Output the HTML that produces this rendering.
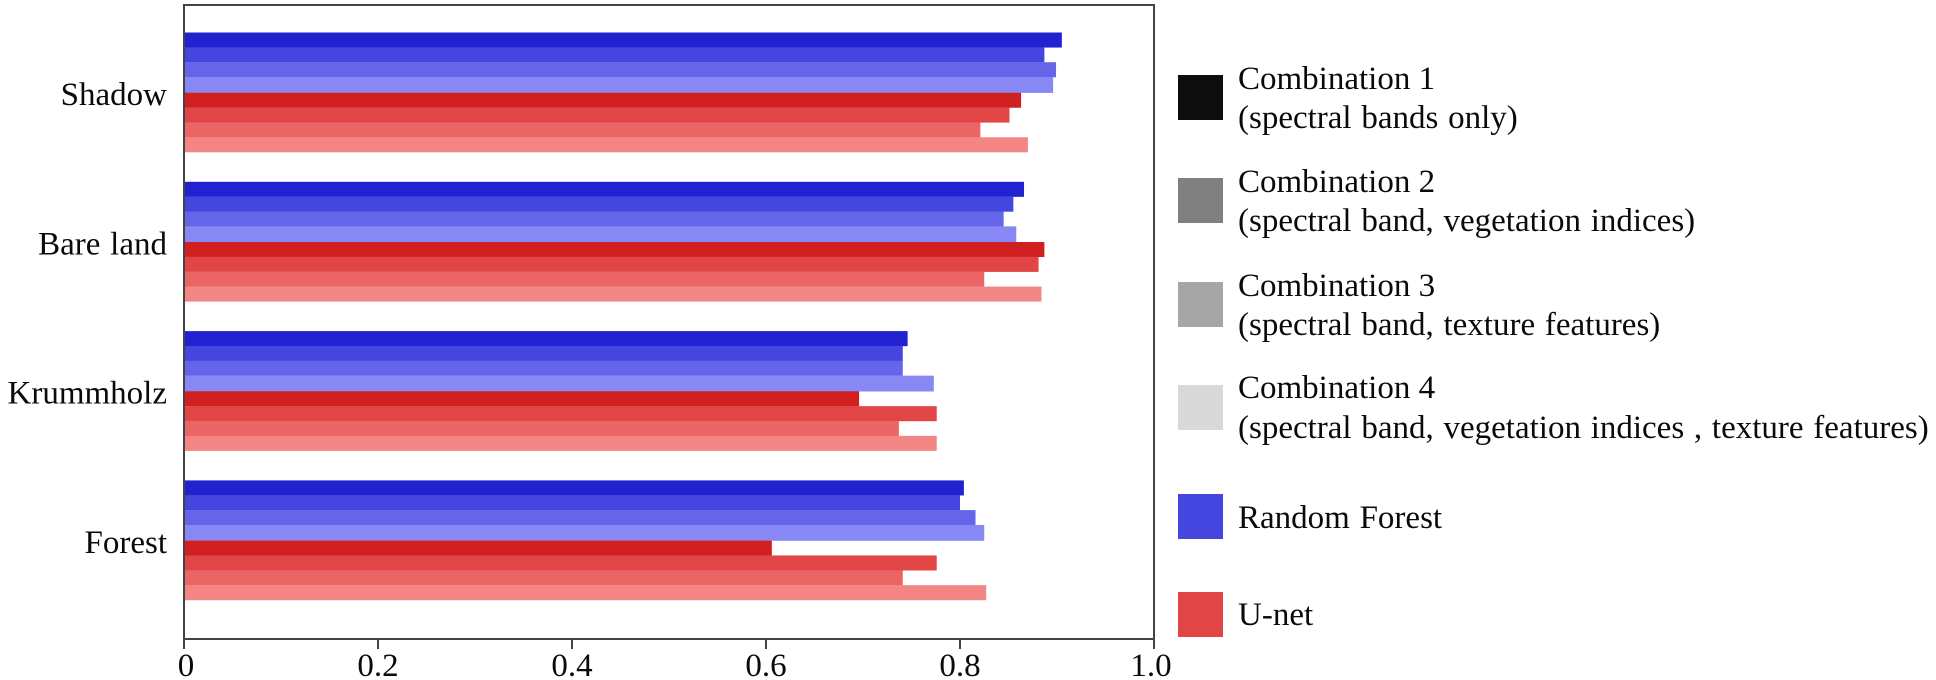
<!DOCTYPE html>
<html lang="en">
<head>
<meta charset="utf-8">
<title>Accuracy by land cover class, feature combination and model</title>
<style>
html,body{margin:0;padding:0;background:#fff;width:1936px;height:680px;overflow:hidden}
svg{display:block}
text{font-family:"Liberation Serif",serif;font-size:33px;fill:#0a0a0a}
.wide{word-spacing:1.5px}
</style>
</head>
<body>
<svg id="chart" xmlns="http://www.w3.org/2000/svg" width="1936" height="680" viewBox="0 0 1936 680">
  <rect x="0" y="0" width="1936" height="680" fill="#fff"/>
  <g id="bars"></g>
  <rect x="184" y="5" width="970" height="634" fill="none" stroke="#444" stroke-width="2"/>
  <g id="x-axis"></g>
  <g id="y-axis"></g>
  <g>
    <g>
      <rect x="1178" y="75" width="45" height="45" fill="#0d0d0d"/>
      <text x="1238" y="89">Combination 1</text>
      <text class="wide" x="1238" y="128">(spectral bands only)</text>
    </g>
    <g>
      <rect x="1178" y="178" width="45" height="45" fill="#808080"/>
      <text x="1238" y="192">Combination 2</text>
      <text class="wide" x="1238" y="231">(spectral band, vegetation indices)</text>
    </g>
    <g>
      <rect x="1178" y="282" width="45" height="45" fill="#a6a6a6"/>
      <text x="1238" y="296">Combination 3</text>
      <text class="wide" x="1238" y="335">(spectral band, texture features)</text>
    </g>
    <g>
      <rect x="1178" y="385" width="45" height="45" fill="#d9d9d9"/>
      <text x="1238" y="398">Combination 4</text>
      <text class="wide" x="1238" y="438">(spectral band, vegetation indices , texture features)</text>
    </g>
    <g>
      <rect x="1178" y="494" width="45" height="45" fill="#4545e0"/>
      <text class="wide" x="1238" y="528">Random Forest</text>
    </g>
    <g>
      <rect x="1178" y="592" width="45" height="45" fill="#e14545"/>
      <text x="1238" y="625">U-net</text>
    </g>
  </g>
</svg>
<script>
const categories = ['Shadow', 'Bare land', 'Krummholz', 'Forest'];
const xTickValues = [0, 0.2, 0.4, 0.6, 0.8, 1.0];
const xTickLabels = ['0', '0.2', '0.4', '0.6', '0.8', '1.0'];
const seriesNames = ['rf-combination-1', 'rf-combination-2', 'rf-combination-3', 'rf-combination-4', 'unet-combination-1', 'unet-combination-2', 'unet-combination-3', 'unet-combination-4'];
const seriesColors = ['#2222d0', '#4545e0', '#6565ea', '#8888f5', '#d12020', '#e14545', '#ec6565', '#f48585'];
const rfCombination1 = [0.905, 0.866, 0.746, 0.804];
const rfCombination2 = [0.887, 0.855, 0.741, 0.800];
const rfCombination3 = [0.899, 0.845, 0.741, 0.816];
const rfCombination4 = [0.896, 0.858, 0.773, 0.825];
const unetCombination1 = [0.863, 0.887, 0.696, 0.606];
const unetCombination2 = [0.851, 0.881, 0.776, 0.776];
const unetCombination3 = [0.821, 0.825, 0.737, 0.741];
const unetCombination4 = [0.870, 0.884, 0.776, 0.827];
const seriesValues = [rfCombination1, rfCombination2, rfCombination3, rfCombination4, unetCombination1, unetCombination2, unetCombination3, unetCombination4];

const SVG_NS = 'http://www.w3.org/2000/svg';
const PLOT_LEFT = 184, PLOT_WIDTH = 970, PLOT_BOTTOM = 639;
const FIRST_GROUP_TOP = 32.5, GROUP_STEP = 149.3, BAR_HEIGHT = 14.85;

function xScale(v) { return PLOT_LEFT + v * PLOT_WIDTH; }
function groupTop(i) { return FIRST_GROUP_TOP + i * GROUP_STEP; }
function barTop(c, s) { return groupTop(c) + s * BAR_HEIGHT + (s >= 4 ? 0.8 : 0); }
function slug(s) { return s.toLowerCase().replace(/[^a-z0-9]+/g, '-'); }

const barsLayer = document.getElementById('bars');
const xAxisLayer = document.getElementById('x-axis');
const yAxisLayer = document.getElementById('y-axis');

seriesValues.forEach(function (values, s) {
  values.forEach(function (v, c) {
    const bar = document.createElementNS(SVG_NS, 'rect');
    
    
    bar.setAttribute('x', xScale(0));
    bar.setAttribute('y', barTop(c, s));
    bar.setAttribute('width', xScale(v) - xScale(0));
    bar.setAttribute('height', BAR_HEIGHT + (s === 3 ? 1 : 0.2));
    bar.setAttribute('fill', seriesColors[s]);
    barsLayer.appendChild(bar);
  });
});

xTickValues.forEach(function (v, i) {
  const tick = document.createElementNS(SVG_NS, 'line');
  
  
  tick.setAttribute('x1', xScale(v));
  tick.setAttribute('x2', xScale(v));
  tick.setAttribute('y1', PLOT_BOTTOM);
  tick.setAttribute('y2', PLOT_BOTTOM + 10);
  tick.setAttribute('stroke', '#444');
  tick.setAttribute('stroke-width', 2);
  xAxisLayer.appendChild(tick);

  const label = document.createElementNS(SVG_NS, 'text');
  
  
  label.setAttribute('x', xScale(v) + (i === 0 ? 2 : i === xTickValues.length - 1 ? -3 : 0));
  label.setAttribute('y', 676);
  label.setAttribute('text-anchor', 'middle');
  label.textContent = xTickLabels[i];
  xAxisLayer.appendChild(label);
});

categories.forEach(function (name, c) {
  const label = document.createElementNS(SVG_NS, 'text');
  
  
  label.setAttribute('class', 'wide');
  label.setAttribute('x', 167);
  label.setAttribute('y', groupTop(c) + 72.5);
  label.setAttribute('text-anchor', 'end');
  label.textContent = name;
  yAxisLayer.appendChild(label);
});
</script>
</body>
</html>
